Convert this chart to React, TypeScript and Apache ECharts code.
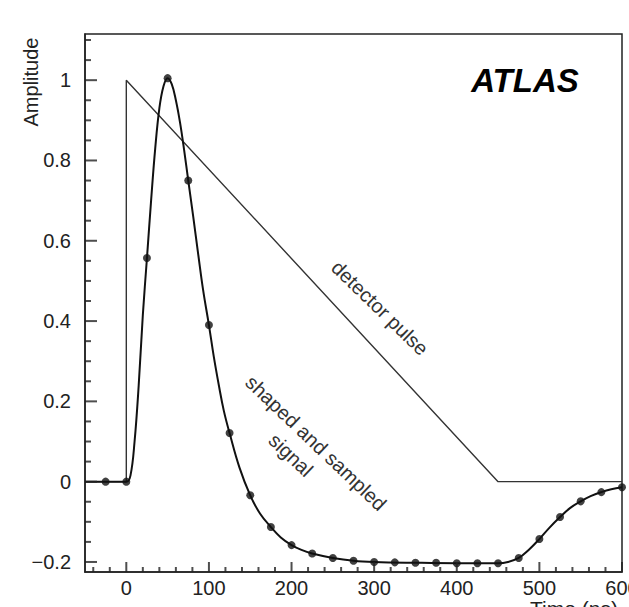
import React, { useEffect, useRef } from "react";
import * as echarts from "echarts";

// Sampled points of the shaped signal (ns, amplitude)
const sampleTimes = [-25, 0, 25, 50, 75, 100, 125, 150, 175, 200, 225, 250, 275, 300, 325, 350, 375, 400, 425, 450, 475, 500, 525, 550, 575, 600];
const sampleAmps = [0, 0, 0.557, 1.005, 0.75, 0.39, 0.121, -0.034, -0.113, -0.158, -0.179, -0.19, -0.197, -0.2, -0.201, -0.202, -0.202, -0.203, -0.203, -0.203, -0.19, -0.143, -0.088, -0.049, -0.026, -0.014];

// Continuous shaped signal curve
const curveTimes = [-50, 0, 5, 10, 15, 20, 25, 30, 35, 40, 45, 50, 55, 60, 65, 70, 75, 81, 87, 93, 100, 106, 112, 118, 125, 137, 150, 162, 175, 187, 200, 212, 225, 250, 275, 300, 350, 400, 450, 462, 475, 487, 500, 512, 525, 537, 550, 562, 575, 587, 600];
const curveAmps = [0, 0, 0.015, 0.1, 0.24, 0.415, 0.557, 0.7, 0.83, 0.93, 0.985, 1.005, 0.99, 0.95, 0.895, 0.826, 0.75, 0.66, 0.567, 0.477, 0.39, 0.31, 0.24, 0.177, 0.121, 0.035, -0.034, -0.08, -0.113, -0.139, -0.158, -0.17, -0.179, -0.19, -0.197, -0.2, -0.202, -0.203, -0.203, -0.2, -0.19, -0.17, -0.143, -0.115, -0.088, -0.066, -0.049, -0.036, -0.026, -0.019, -0.014];

// Detector pulse (triangular)
const pulseTimes = [-50, 0, 0, 450, 600];
const pulseAmps = [0, 0, 1, 0, 0];

// Ticks
const xMajorTicks = [0, 100, 200, 300, 400, 500, 600];
const xMinorTicks = [-40, -20, 20, 40, 60, 80, 120, 140, 160, 180, 220, 240, 260, 280, 320, 340, 360, 380, 420, 440, 460, 480, 520, 540, 560, 580];
const yMajorTicks = [-0.2, 0, 0.2, 0.4, 0.6, 0.8, 1];
const yMinorTicks = [-0.15, -0.1, -0.05, 0.05, 0.1, 0.15, 0.25, 0.3, 0.35, 0.45, 0.5, 0.55, 0.65, 0.7, 0.75, 0.85, 0.9, 0.95, 1.05, 1.1];

const FONT = "'Liberation Sans', Arial, Helvetica, sans-serif";

export default function App() {
  const ref = useRef<HTMLDivElement>(null);
  useEffect(() => {
    if (!ref.current) return;
    const chart = echarts.init(ref.current, null, { renderer: "svg" });
    const xMin = -50, xMax = 600, yMin = -0.225, yMax = 1.115;
    const tickColor = "#222";
    const tickW = 2;

    const xTickSeries = (ticks: number[], len: number) => ({
      type: "scatter",
      data: ticks.map((v) => [v, yMin]),
      symbol: "rect",
      symbolSize: [tickW, len],
      symbolOffset: [0, -len / 2],
      itemStyle: { color: tickColor },
      clip: false,
      silent: true,
      z: 6,
    });
    const yTickSeries = (ticks: number[], len: number) => ({
      type: "scatter",
      data: ticks.map((v) => [xMin, v]),
      symbol: "rect",
      symbolSize: [len, tickW],
      symbolOffset: [len / 2, 0],
      itemStyle: { color: tickColor },
      clip: false,
      silent: true,
      z: 6,
    });

    const option: any = {
      animation: false,
      backgroundColor: "#fff",
      grid: {
        left: 85, right: 7, top: 34, bottom: 35,
        outerBoundsMode: "none", containLabel: false,
        show: true, borderColor: "#222", borderWidth: 1.5, backgroundColor: "transparent",
      },
      xAxis: {
        type: "value", min: xMin, max: xMax, position: "bottom",
        axisLine: { show: true, onZero: false, lineStyle: { color: "#222", width: 1.5 } },
        splitLine: { show: false },
        axisTick: { show: false },
        axisLabel: { show: true, customValues: xMajorTicks, margin: 6, color: "#222", fontSize: 20, fontFamily: FONT, hideOverlap: false },
      },
      yAxis: {
        type: "value", min: yMin, max: yMax, position: "left",
        axisLine: { show: true, onZero: false, lineStyle: { color: "#222", width: 1.5 } },
        splitLine: { show: false },
        axisTick: { show: false },
        axisLabel: {
          show: true, customValues: yMajorTicks, margin: 14, color: "#222", fontSize: 20, fontFamily: FONT,
          formatter: (v: number) => (v < 0 ? "\u2212" + String(Math.abs(v)) : String(v)),
        },
      },
      series: [
        xTickSeries(xMajorTicks, 10),
        xTickSeries(xMinorTicks, 5),
        yTickSeries(yMajorTicks, 12),
        yTickSeries(yMinorTicks, 6),
        {
          type: "line", name: "detector pulse",
          data: pulseTimes.map((t, i) => [t, pulseAmps[i]]),
          showSymbol: false, symbol: "none",
          lineStyle: { color: "#333", width: 1.4 },
          z: 3,
        },
        {
          type: "line", name: "shaped signal",
          data: curveTimes.map((t, i) => [t, curveAmps[i]]),
          smooth: 0.4,
          showSymbol: false, symbol: "none",
          lineStyle: { color: "#111", width: 2 },
          z: 4,
        },
        {
          type: "scatter", name: "samples",
          data: sampleTimes.map((t, i) => [t, sampleAmps[i]]),
          symbol: "circle", symbolSize: 8,
          itemStyle: { color: "#111" },
          z: 5,
        },
      ],
      graphic: [
        {
          type: "text", x: 31, y: 82, rotation: Math.PI / 2,
          style: { text: "Amplitude", fontSize: 20, fontFamily: FONT, fill: "#222", align: "center", verticalAlign: "middle" },
        },
        {
          type: "text", x: 530, y: 598,
          style: { text: "Time (ns)", fontSize: 21, fontFamily: FONT, fill: "#222", align: "left", verticalAlign: "top" },
        },
        {
          type: "text", x: 525, y: 80,
          style: { text: "ATLAS", fontSize: 33, fontWeight: "bold", fontStyle: "italic", fontFamily: FONT, fill: "#000", align: "center", verticalAlign: "middle" },
        },
        {
          type: "text", x: 380, y: 308, rotation: -Math.PI / 4 * 0.98,
          style: { text: "detector pulse", fontSize: 20, fontFamily: FONT, fill: "#333", align: "center", verticalAlign: "middle" },
        },
        {
          type: "text", x: 316, y: 443, rotation: -Math.PI / 4 * 0.97,
          style: { text: "shaped and sampled", fontSize: 20, fontFamily: FONT, fill: "#333", align: "center", verticalAlign: "middle" },
        },
        {
          type: "text", x: 291, y: 455, rotation: -Math.PI / 4 * 0.97,
          style: { text: "signal", fontSize: 20, fontFamily: FONT, fill: "#333", align: "center", verticalAlign: "middle" },
        },
      ],
    };
    chart.setOption(option);
    return () => chart.dispose();
  }, []);
  return <div ref={ref} style={{ position: "fixed", left: 0, top: 0, width: 629, height: 607 }} />;
}
